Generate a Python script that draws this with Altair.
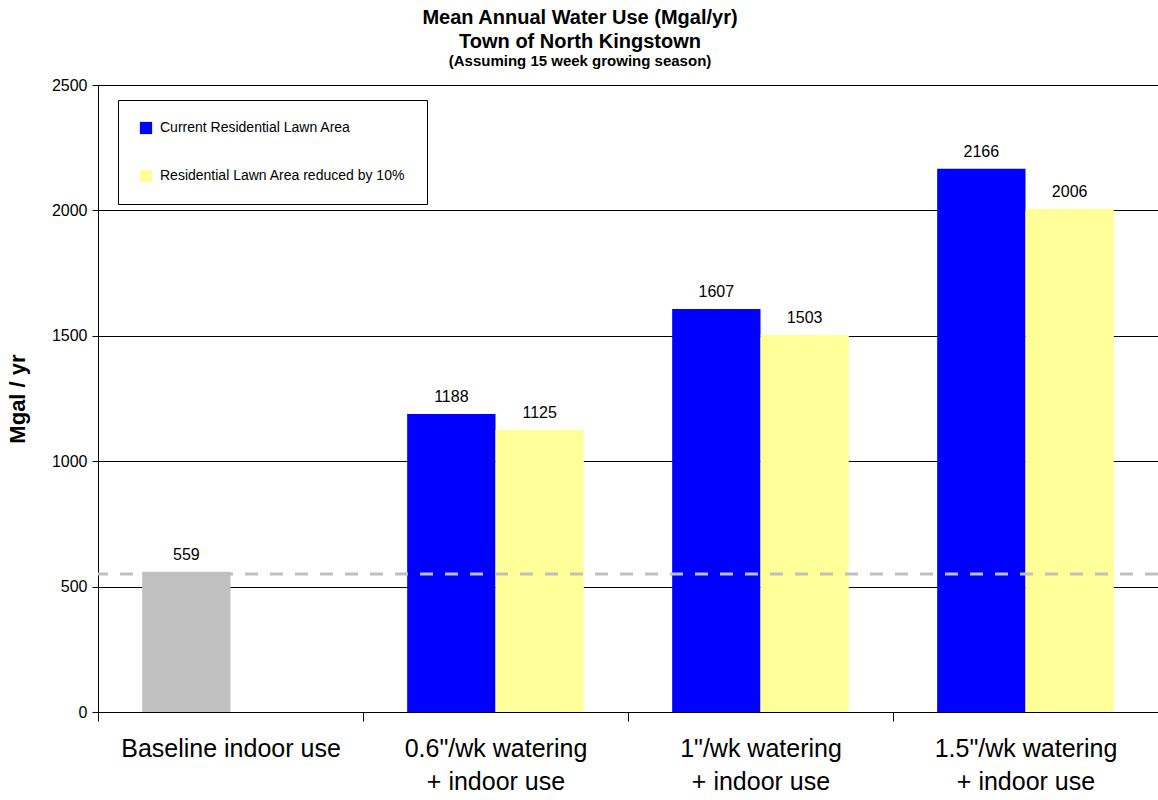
import altair as alt
import pandas as pd

categories = ["Baseline indoor use",
              "0.6\"/wk watering|+ indoor use",
              "1\"/wk watering|+ indoor use",
              "1.5\"/wk watering|+ indoor use"]
series_current = "Current Residential Lawn Area"
series_reduced = "Residential Lawn Area reduced by 10%"
series_base = "Baseline indoor use"
current_values = [559, 1188, 1607, 2166]
reduced_values = [None, 1125, 1503, 2006]
reference_level = [550]

rows = []
for i, c in enumerate(categories):
    grp = series_base if i == 0 else series_current
    rows.append({"cat": c, "slot": "A", "series": grp, "value": current_values[i]})
    if reduced_values[i] is not None:
        rows.append({"cat": c, "slot": "B", "series": series_reduced, "value": reduced_values[i]})
df = pd.DataFrame(rows)

FONT = "Liberation Sans"

x_enc = alt.X("cat:N", sort=categories,
              scale=alt.Scale(paddingInner=0, paddingOuter=0),
              axis=alt.Axis(title=None, labelAngle=0, labelFontSize=25, labelFont=FONT,
                            labelColor="black", labelExpr="split(datum.label, '|')",
                            labelLineHeight=33, labelPadding=15, labelLimit=0,
                            tickBand="extent", tickSize=9, tickColor="black",
                            domainColor="black", labelBaseline="top"))
xo_enc = alt.XOffset("slot:N", scale=alt.Scale(domain=["A", "B"], paddingInner=0, paddingOuter=0.5))
y_enc = alt.Y("value:Q",
              scale=alt.Scale(domain=[0, 2500], nice=False),
              axis=alt.Axis(title="Mgal / yr", titleFontSize=22, titleFont=FONT,
                            titleFontWeight="bold", titleColor="black", titlePadding=22,
                            values=[0, 500, 1000, 1500, 2000, 2500], format="d",
                            labelFontSize=16, labelFont=FONT, labelColor="black",
                            tickSize=6, tickColor="black", domainColor="black",
                            gridColor="black", gridWidth=1, grid=True, labelPadding=5))

color_enc = alt.Color("series:N",
                      scale=alt.Scale(domain=[series_current, series_reduced, series_base],
                                      range=["#0000FF", "#FFFF99", "#C0C0C0"]),
                      legend=alt.Legend(values=[series_current, series_reduced], title=None,
                                        orient="none", legendX=20, legendY=15,
                                        labelFontSize=14, labelFont=FONT, labelColor="black",
                                        labelLimit=0,
                                        symbolType="square", symbolSize=150,
                                        symbolStrokeWidth=0, rowPadding=34, padding=21,
                                        strokeColor="black", fillColor="white",
                                        labelOffset=7))

bars = alt.Chart(df).mark_bar().encode(x=x_enc, xOffset=xo_enc, y=y_enc, color=color_enc)
labels = alt.Chart(df).mark_text(baseline="bottom", dy=-9, fontSize=16, font=FONT, color="black").encode(
    x=alt.X("cat:N", sort=categories), xOffset=xo_enc, y="value:Q", text="value:Q")
rule = alt.Chart(pd.DataFrame({"y": reference_level})).mark_rule(
    color="#C0C0C0", strokeWidth=3, strokeDash=[13, 12]).encode(y="y:Q")

chart = alt.layer(bars, labels, rule).properties(
    width=1060, height=627,
    autosize=alt.AutoSizeParams(type="none"),
    padding={"left": 98, "top": 85, "right": 0, "bottom": 88},
    title=alt.TitleParams(text=["Mean Annual Water Use (Mgal/yr)", "Town of North Kingstown"],
                          subtitle="(Assuming 15 week growing season)",
                          fontSize=20, font=FONT, fontWeight="bold", color="black",
                          subtitleFontSize=15, subtitleFont=FONT, subtitleFontWeight="bold",
                          subtitleColor="black", subtitlePadding=2, lineHeight=24,
                          anchor="middle", dx=-48, offset=8),
).configure_view(stroke=None)

chart.save("out.html", embed_options={"renderer": "svg", "actions": False})
